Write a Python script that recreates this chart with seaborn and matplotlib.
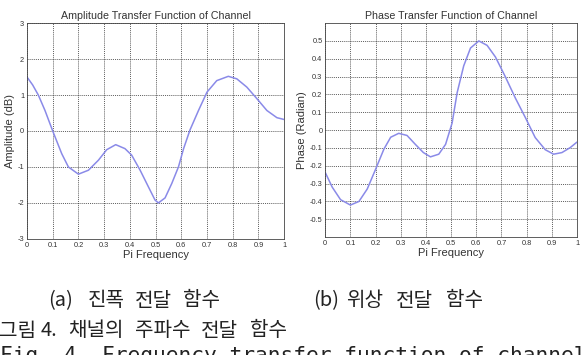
import matplotlib
matplotlib.use('Agg')
import matplotlib.pyplot as plt
import numpy as np
import pandas as pd
import seaborn as sns

# amplitude transfer function
amp_freq = [0.0, 0.022, 0.044, 0.07, 0.1, 0.135, 0.161, 0.2, 0.239, 0.278, 0.31,
            0.345, 0.381, 0.407, 0.44, 0.472, 0.498, 0.511, 0.537, 0.563, 0.589,
            0.609, 0.634, 0.667, 0.7, 0.738, 0.783, 0.816, 0.855, 0.894, 0.933,
            0.972, 1.0]
amp_db = [1.5, 1.28, 1.0, 0.57, 0.0, -0.63, -1.0, -1.2, -1.09, -0.81, -0.52,
          -0.38, -0.49, -0.67, -1.09, -1.55, -1.92, -2.0, -1.86, -1.46, -1.0,
          -0.49, 0.03, 0.57, 1.08, 1.4, 1.52, 1.45, 1.22, 0.9, 0.57,
          0.37, 0.32]

# phase transfer function
ph_freq = [0.0, 0.028, 0.061, 0.1, 0.134, 0.167, 0.2, 0.233, 0.26, 0.292, 0.325,
           0.358, 0.39, 0.418, 0.451, 0.478, 0.504, 0.524, 0.55, 0.577, 0.61,
           0.643, 0.676, 0.715, 0.755, 0.795, 0.834, 0.874, 0.907, 0.94, 0.973, 1.0]
ph_rad = [-0.237, -0.32, -0.39, -0.42, -0.40, -0.33, -0.22, -0.107, -0.04, -0.018,
          -0.03, -0.08, -0.126, -0.15, -0.135, -0.08, 0.04, 0.21, 0.36, 0.46, 0.5,
          0.475, 0.41, 0.30, 0.18, 0.07, -0.042, -0.11, -0.135, -0.126, -0.098, -0.067]

amp_ticks = [-3, -2, -1, 0, 1, 2, 3]
ph_ticks = [-0.5, -0.4, -0.3, -0.2, -0.1, 0, 0.1, 0.2, 0.3, 0.4, 0.5]
x_ticks = [0, 0.1, 0.2, 0.3, 0.4, 0.5, 0.6, 0.7, 0.8, 0.9, 1]

# caption words
cap_a = ['(a)', '진폭', '전달', '함수']
cap_b = ['(b)', '위상', '전달', '함수']
cap_fig = ['그림', '4.', '채널의', '주파수', '전달', '함수']
cap_en = 'Fig. 4. Frequency transfer function of channel'

sns.set_style('white')
plt.rcParams['font.family'] = ['Liberation Sans', 'Noto Sans CJK KR', 'DejaVu Sans']

fig = plt.figure(figsize=(5.87, 3.55), dpi=100)
ax1 = fig.add_axes([0.046, 0.327, 0.438, 0.608])
ax2 = fig.add_axes([0.554, 0.332, 0.429, 0.603])

line_col = '#8a8ae8'
df_amp = pd.DataFrame({'f': amp_freq, 'a': amp_db})
df_ph = pd.DataFrame({'f': ph_freq, 'p': ph_rad})
sns.lineplot(data=df_amp, x='f', y='a', ax=ax1, color=line_col, linewidth=1.1, sort=False)
sns.lineplot(data=df_ph, x='f', y='p', ax=ax2, color=line_col, linewidth=1.1, sort=False)

for ax, yt, ylim, ylab, title in [
        (ax1, amp_ticks, (-3, 3), 'Amplitude (dB)', 'Amplitude Transfer Function of Channel'),
        (ax2, ph_ticks, (-0.6, 0.6), 'Phase (Radian)', 'Phase Transfer Function of Channel')]:
    ax.set_xlim(0, 1)
    ax.set_ylim(*ylim)
    ax.set_xticks(x_ticks)
    ax.set_xticklabels(['%g' % v for v in x_ticks])
    ax.set_yticks(yt)
    ax.set_yticklabels(['%g' % v for v in yt])
    ax.tick_params(direction='in', length=2, width=0.5, labelsize=5.3, colors='#333333', pad=2)
    ax.grid(True, linestyle=(0, (1.5, 1.5)), color='#222222', linewidth=0.5)
    for s in ax.spines.values():
        s.set_color('#444444')
        s.set_linewidth(0.6)
    ax.set_xlabel('Pi Frequency', fontsize=8, color='#333333', labelpad=1)
    ax.set_ylabel(ylab, fontsize=8, color='#333333', labelpad=2)
    ax.set_title(title, fontsize=7.7, color='#333333', pad=3)

kr = ['Noto Sans CJK KR', 'DejaVu Sans']
W, H = 587.0, 355.0


def put_words(words, xs, y):
    for w, x in zip(words, xs):
        fig.text(x / W, 1 - y / H, w, fontsize=14.5, family=kr,
                 va='center', ha='left', color='#222222')


put_words(cap_a, [48, 88, 135, 183], 301)
put_words(cap_b, [313, 346, 396, 446], 301)
put_words(cap_fig, [-1, 41, 68, 135, 201, 250], 331)
fig.text(0.0, 1 - 346.5 / H, cap_en, fontsize=15.3,
         family='DejaVu Sans Mono', va='top', ha='left', color='#222222')

plt.savefig('out.png', dpi=100)
plt.close()
